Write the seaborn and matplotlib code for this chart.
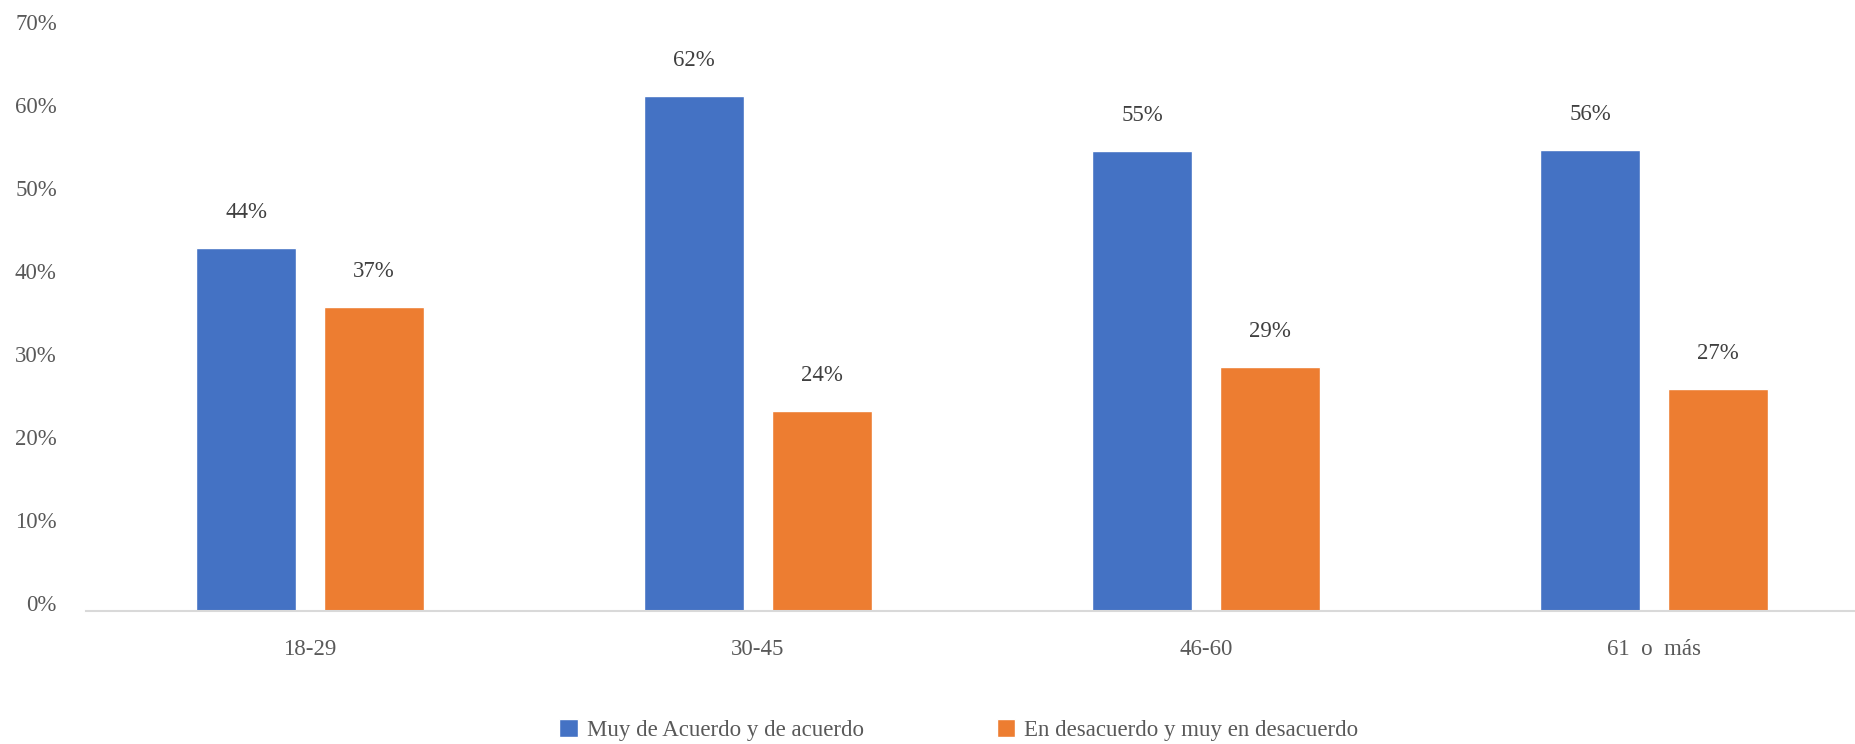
import pandas as pd
import matplotlib.pyplot as plt
import seaborn as sns

# -----------------------------
# Data
# -----------------------------
age_groups = ["18-29", "30-45", "46-60", "61  o  más"]
series_names = ["Muy de Acuerdo y de acuerdo", "En desacuerdo y muy en desacuerdo"]
agree = [43.7, 62.0, 55.4, 55.6]
disagree = [36.6, 24.1, 29.4, 26.7]
y_ticks = [0, 10, 20, 30, 40, 50, 60, 70]

df = pd.DataFrame({
    "grupo": age_groups * 2,
    "serie": [series_names[0]] * 4 + [series_names[1]] * 4,
    "valor": agree + disagree,
})

# -----------------------------
# Style
# -----------------------------
sns.set_style("white")
plt.rcParams["font.family"] = ["Liberation Serif", "DejaVu Serif"]

palette = {series_names[0]: "#4472C4", series_names[1]: "#ED7D31"}
fs = 16.5

fig = plt.figure(figsize=(18.55, 7.44), dpi=100)
ax = fig.add_axes([86 / 1855, 133 / 744, (1878 - 86) / 1855, (611 - 30) / 744])

sns.barplot(
    data=df,
    x="grupo",
    y="valor",
    hue="serie",
    hue_order=series_names,
    order=age_groups,
    palette=palette,
    width=0.57,
    gap=0.215,
    saturation=1,
    ax=ax,
)

# -----------------------------
# Labels
# -----------------------------
for cont in ax.containers:
    ax.bar_label(
        cont,
        labels=[f"{v:.0f}%" for v in cont.datavalues],
        padding=18,
        fontsize=fs,
        color="#404040",
    )

ax.set_ylim(0, 70)
ax.set_yticks(y_ticks)
ax.set_yticklabels([f"{t}%" for t in y_ticks])
ax.set_xlabel("")
ax.set_ylabel("")

ax.tick_params(axis="y", length=0, pad=21, labelsize=fs, labelcolor="#595959")
ax.tick_params(axis="x", length=0, pad=20, labelsize=fs, labelcolor="#595959")
for lab in ax.get_yticklabels():
    lab.set_verticalalignment("baseline")

for side in ["top", "right", "left"]:
    ax.spines[side].set_visible(False)
ax.spines["bottom"].set_color("#D9D9D9")
ax.spines["bottom"].set_linewidth(1.5)

# -----------------------------
# Legend
# -----------------------------
handles, labels = ax.get_legend_handles_labels()
ax.get_legend().remove()
fig.legend(
    handles,
    labels,
    loc="center",
    bbox_to_anchor=(959 / 1855, 14 / 744),
    ncol=2,
    frameon=False,
    fontsize=fs,
    labelcolor="#595959",
    handlelength=0.8,
    handleheight=0.8,
    handletextpad=0.4,
    columnspacing=5.8,
)

fig.savefig("out.png", dpi=100)
